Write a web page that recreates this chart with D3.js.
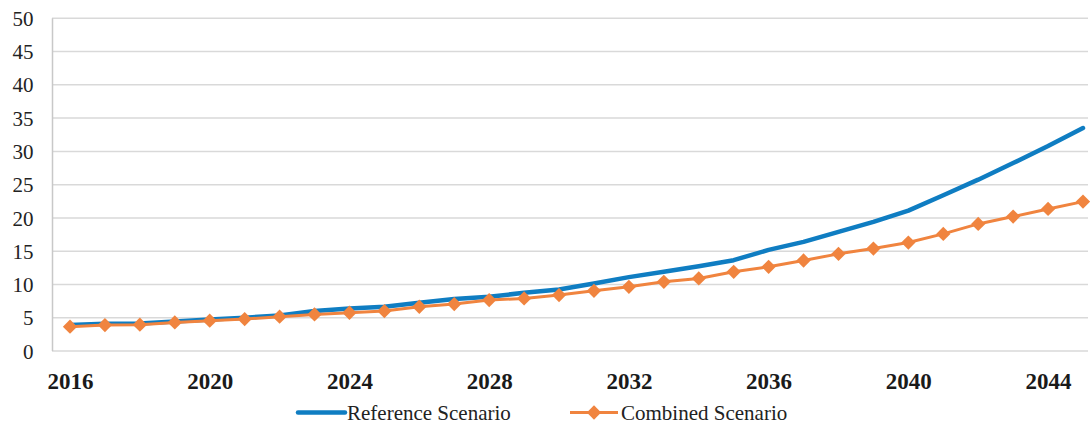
<!DOCTYPE html>
<html><head><meta charset="utf-8">
<script src="https://cdn.jsdelivr.net/npm/d3@7"></script>
</head><body style="margin:0">
<svg id="c" width="1090" height="425" style="position:absolute;left:0;top:0;background:#fff"></svg>
<script>
const years = d3.range(2016, 2046);
const referenceScenario = [3.9,4.1,4.15,4.45,4.75,5.0,5.35,6.0,6.4,6.65,7.25,7.8,8.15,8.75,9.25,10.15,11.1,11.9,12.75,13.65,15.2,16.4,17.9,19.4,21.1,23.4,25.75,28.25,30.8,33.5];
const combinedScenario = [3.65,3.9,3.95,4.3,4.55,4.8,5.15,5.5,5.75,6.0,6.65,7.05,7.65,7.9,8.4,9.05,9.65,10.4,10.9,11.9,12.65,13.6,14.6,15.4,16.3,17.6,19.1,20.2,21.35,22.45];
const yTicks = [0,5,10,15,20,25,30,35,40,45,50];
const xTickYears = [2016,2020,2024,2028,2032,2036,2040,2044];
const seriesNames = ["Reference Scenario","Combined Scenario"];

const svg = d3.select("#c");
const x = d3.scalePoint().domain(years).range([70, 1083]);
const y = d3.scaleLinear().domain([0, 50]).range([351, 18.3]);
const blue = "#0f7dc2", orange = "#f0843f";
const serif = '"Liberation Serif"';

// gridlines
svg.append("g").selectAll("line").data(yTicks).join("line")
  .attr("x1", 52).attr("x2", 1088)
  .attr("y1", d => y(d)).attr("y2", d => y(d))
  .attr("stroke", "#d9d9d9").attr("stroke-width", 1.5);
// left axis line
svg.append("line").attr("x1", 52.5).attr("x2", 52.5).attr("y1", y(50)).attr("y2", y(0))
  .attr("stroke", "#c8c8c8").attr("stroke-width", 1.5);

// y labels
const yAxis = d3.axisLeft(y).tickValues(yTicks).tickSize(0).tickPadding(0);
const gy = svg.append("g").attr("transform", "translate(33.5,0)").call(yAxis)
  .attr("font-family", null).attr("font-size", null);
gy.select(".domain").remove();
gy.selectAll("text").style("font-family", serif).style("font-size", "21px").attr("fill", "#222").attr("dy", "0.34em");

// x labels
const xAxis = d3.axisBottom(x).tickValues(xTickYears).tickSize(0).tickPadding(0);
const gx = svg.append("g").attr("transform", "translate(0,389)").call(xAxis)
  .attr("font-family", null).attr("font-size", null);
gx.select(".domain").remove();
gx.selectAll("text").style("font-family", serif).style("font-size", "23px").style("font-weight", "bold").attr("fill", "#1a1a1a").attr("dy", "0");

const line = d3.line().x((d, i) => x(years[i])).y(d => y(d));
svg.append("path").datum(referenceScenario).attr("d", line)
  .attr("fill", "none").attr("stroke", blue).attr("stroke-width", 4.5).attr("stroke-linejoin", "round").attr("stroke-linecap", "round");
svg.append("path").datum(combinedScenario).attr("d", line)
  .attr("fill", "none").attr("stroke", orange).attr("stroke-width", 3).attr("stroke-linejoin", "round");
const diamond = d3.symbol().type(d3.symbolDiamond2).size(130);
svg.append("g").selectAll("path").data(combinedScenario).join("path")
  .attr("d", diamond)
  .attr("transform", (d, i) => `translate(${x(years[i])},${y(d)})`)
  .attr("fill", orange);

// legend
const lg = svg.append("g");
lg.append("line").attr("x1", 298).attr("x2", 345).attr("y1", 412.5).attr("y2", 412.5)
  .attr("stroke", blue).attr("stroke-width", 4.5).attr("stroke-linecap", "round");
lg.append("text").attr("x", 347).attr("y", 419.5).text(seriesNames[0])
  .style("font-family", serif).style("font-size", "21px").attr("fill", "#222");
lg.append("line").attr("x1", 570).attr("x2", 618).attr("y1", 412.5).attr("y2", 412.5)
  .attr("stroke", orange).attr("stroke-width", 3);
lg.append("path").attr("d", diamond).attr("transform", "translate(594,412.5)").attr("fill", orange);
lg.append("text").attr("x", 621).attr("y", 419.5).text(seriesNames[1])
  .style("font-family", serif).style("font-size", "21px").attr("fill", "#222");
</script>
</body></html>
